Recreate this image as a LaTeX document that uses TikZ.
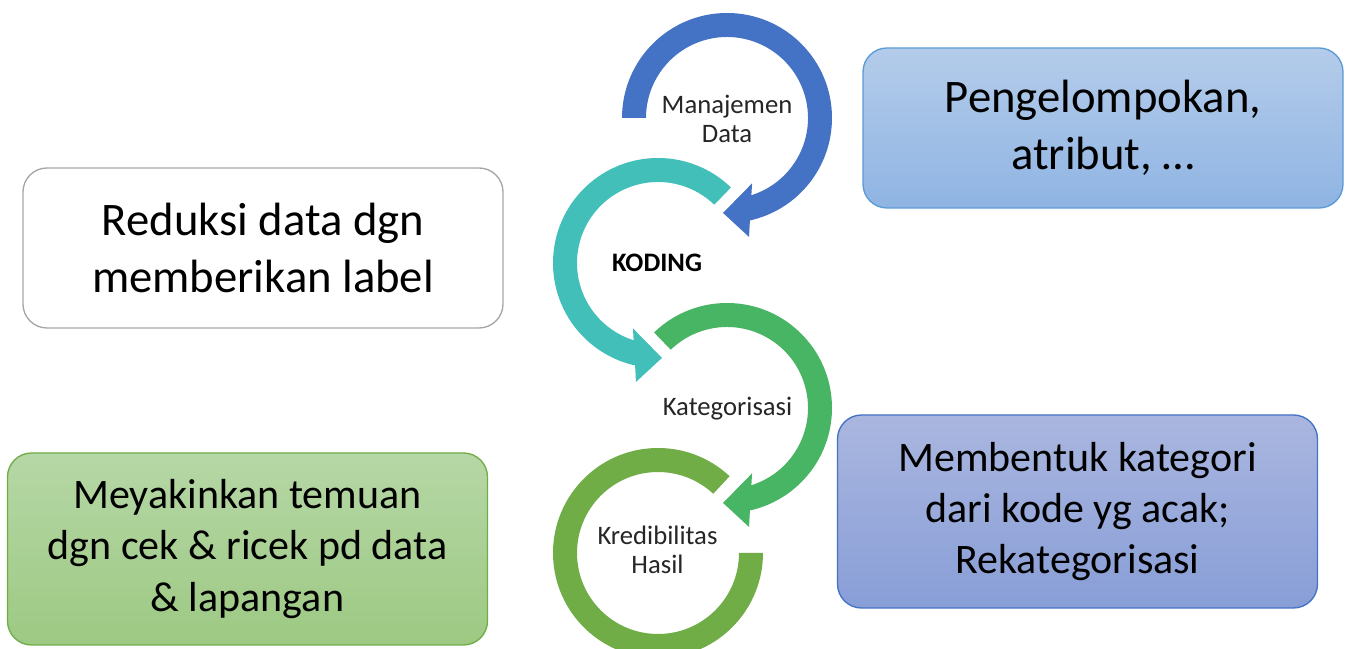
\documentclass[tikz,border=0pt]{standalone}
\usepackage{fontspec}
\setmainfont{Carlito}
\definecolor{cblue}{RGB}{68,114,196}
\definecolor{cteal}{RGB}{67,191,186}
\definecolor{cgreen}{RGB}{72,181,100}
\definecolor{clgreen}{RGB}{112,173,71}
\definecolor{trtop}{RGB}{180,204,234}
\definecolor{trbot}{RGB}{143,180,227}
\definecolor{trline}{RGB}{91,155,213}
\definecolor{grtop}{RGB}{182,215,166}
\definecolor{grbot}{RGB}{157,201,131}
\definecolor{putop}{RGB}{170,182,223}
\definecolor{pubot}{RGB}{136,158,215}
\definecolor{wline}{RGB}{166,166,166}
\tikzset{
  infobox/.style={rounded corners=18pt, line width=1pt, align=center,
    minimum width=360pt, inner sep=0pt, text=black},
  bigtext/.style={font=\fontsize{35pt}{43pt}\selectfont},
  midtext/.style={font=\fontsize{31.5pt}{38.5pt}\selectfont},
  ringtext/.style={font=\fontsize{20pt}{21.75pt}\selectfont, align=center, text=black!85, inner sep=0pt},
}
\begin{document}
\begin{tikzpicture}[x=0.75pt,y=0.75pt]
\clip (0,0) rectangle (1346,649);
\useasboundingbox (0,0) rectangle (1346,649);
\fill[white] (0,0) rectangle (1346,649);
% ring centres
\coordinate (c1) at (727,531);
\coordinate (c2) at (658,386);
\coordinate (c3) at (727,241);
\coordinate (c4) at (658,96);
% blue ring arrow (clockwise)
\begin{scope}[shift={(c1)}]
\fill[cblue] (180:105) arc[start angle=180,end angle=-77.4,radius=105]
  -- (-79.5:121) -- (-92.4:95) -- (-69:70) -- (-72.5:81)
  arc[start angle=-72.5,end angle=180,radius=81] -- cycle;
\end{scope}
% teal ring arrow (counter-clockwise)
\begin{scope}[shift={(c2)}]
\fill[cteal] (46:105) arc[start angle=46,end angle=257.4,radius=105]
  -- (259.5:121) -- (272.4:95) -- (249:70) -- (252.5:81)
  arc[start angle=252.5,end angle=46,radius=81] -- cycle;
\end{scope}
% green ring arrow (clockwise)
\begin{scope}[shift={(c3)}]
\fill[cgreen] (134:105) arc[start angle=134,end angle=-77.4,radius=105]
  -- (-79.5:121) -- (-92.4:95) -- (-69:70) -- (-72.5:81)
  arc[start angle=-72.5,end angle=134,radius=81] -- cycle;
\end{scope}
% light green ring
\begin{scope}[shift={(c4)}]
\fill[clgreen] (47:105) arc[start angle=47,end angle=360,radius=105]
  -- (0:81) arc[start angle=360,end angle=47,radius=81] -- cycle;
\end{scope}
% ring labels
\node[ringtext] (manajemen) at (727,530) {Manajemen\\Data};
\node[ringtext, font=\fontsize{20pt}{21.75pt}\selectfont\bfseries, text=black] (koding) at (657,386.5) {KODING};
\node[ringtext] (kategori) at (727.5,240) {Kategorisasi};
\node[ringtext] (kredibilitas) at (657.5,99) {Kredibilitas\\Hasil};
% boxes
\node[infobox, bigtext, draw=trline, top color=trtop, bottom color=trbot,
  minimum height=120pt] (pengel) at (1103,521) {Pengelompokan,\\atribut, …};
\node[infobox, bigtext, draw=wline, fill=white,
  minimum height=120pt] (reduksi) at (263,401) {Reduksi data dgn\\memberikan label};
\node[infobox, midtext, draw=clgreen, top color=grtop, bottom color=grbot,
  minimum height=144pt] (meyakin) at (247.5,100) {Meyakinkan temuan\\dgn cek \& ricek pd data\\\& lapangan};
\node[infobox, midtext, draw=cblue, top color=putop, bottom color=pubot,
  minimum height=144.75pt] (membentuk) at (1077.5,137.5) {Membentuk kategori\\dari kode yg acak;\\Rekategorisasi};
\end{tikzpicture}
\end{document}
